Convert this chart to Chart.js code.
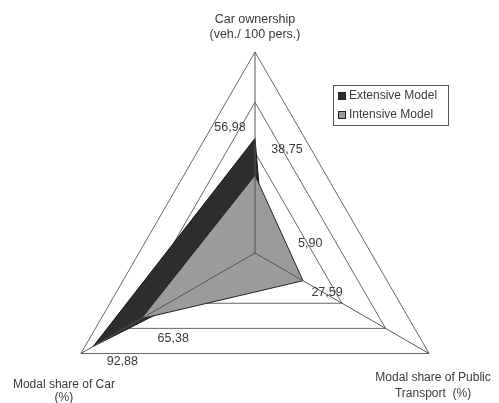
<!DOCTYPE html>
<html>
<head>
<meta charset="utf-8">
<script src="https://cdn.jsdelivr.net/npm/chart.js@4.4.1/dist/chart.umd.min.js"></script>
<style>
  html, body { margin: 0; padding: 0; background: #fff; overflow: hidden; width: 499px; height: 403px; }
  #wrap { width: 499px; height: 460px; }
</style>
</head>
<body>
<div id="wrap"><canvas id="c" width="499" height="460"></canvas></div>
<script>
// ---- data ----
const axisLabels = [
  ['Car ownership', '(veh./ 100 pers.)'],
  ['Modal share of Public', 'Transport  (%)'],
  ['Modal share of Car', '(%)']
];
const seriesNames = ['Extensive Model', 'Intensive Model'];
const extensiveValues = [56.98, 5.90, 92.88];
const intensiveValues = [38.75, 27.59, 65.38];
const scaleMin = 0;
const scaleMax = 100;
const scaleStep = 25;

// ---- styles ----
const FONT = '"Liberation Sans", Arial, sans-serif';
const TEXT = '#3a3a3a';
const seriesFill = ['#2e2e2e', '#9b9b9b'];
// offsets of value labels relative to their points (style only)
const valueLabelOffsets = [
  [[-25, -11], [45, -15], [29, 15]],
  [[32, -26], [24, 12], [32, 20]]
];
// axis title placement relative to axis end (style only)
const axisTitleStyle = [
  { dx: 0, dy: -32, lh: 15, size: 12.5 },
  { dx: 4, dy: 24, lh: 16, size: 12 },
  { dx: -17, dy: 31, lh: 13, size: 12 }
];

const fmt = v => v.toFixed(2).replace('.', ',');

const overlayPlugin = {
  id: 'overlay',
  afterDatasetsDraw(chart) {
    const ctx = chart.ctx;
    const scale = chart.scales.r;
    const n = chart.data.labels.length;
    ctx.save();
    // axis lines on top of fills
    ctx.strokeStyle = '#555';
    ctx.lineWidth = 1;
    for (let i = 0; i < n; i++) {
      const p = scale.getPointPosition(i, scale.drawingArea);
      ctx.beginPath();
      ctx.moveTo(scale.xCenter, scale.yCenter);
      ctx.lineTo(p.x, p.y);
      ctx.stroke();
    }
    // value labels
    ctx.font = '12.5px ' + FONT;
    ctx.fillStyle = TEXT;
    ctx.textAlign = 'center';
    ctx.textBaseline = 'middle';
    chart.data.datasets.forEach((ds, di) => {
      const meta = chart.getDatasetMeta(di);
      meta.data.forEach((pt, i) => {
        const off = valueLabelOffsets[di][i];
        ctx.fillText(fmt(ds.data[i]), pt.x + off[0], pt.y + off[1]);
      });
    });
    // axis titles
    for (let i = 0; i < n; i++) {
      const p = scale.getPointPosition(i, scale.drawingArea);
      const st = axisTitleStyle[i];
      ctx.font = st.size + 'px ' + FONT;
      const lines = chart.data.labels[i];
      lines.forEach((t, k) => {
        ctx.fillText(t, p.x + st.dx, p.y + st.dy + k * st.lh);
      });
    }
    // legend
    ctx.font = '12px ' + FONT;
    const lx = 333, ly = 85, lw = 115, lh = 40;
    ctx.fillStyle = '#fff';
    ctx.fillRect(lx, ly, lw, lh);
    ctx.strokeStyle = '#555';
    ctx.strokeRect(lx + 0.5, ly + 0.5, lw, lh);
    ctx.textAlign = 'left';
    chart.data.datasets.forEach((ds, di) => {
      const yy = ly + 11 + di * 19;
      ctx.fillStyle = ds.backgroundColor;
      ctx.fillRect(lx + 5, yy - 4, 7, 7);
      ctx.strokeStyle = '#222';
      ctx.strokeRect(lx + 5.5, yy - 3.5, 7, 7);
      ctx.fillStyle = TEXT;
      ctx.fillText(ds.label, lx + 16, yy);
    });
    ctx.restore();
  }
};

new Chart(document.getElementById('c'), {
  type: 'radar',
  data: {
    labels: axisLabels,
    datasets: [
      {
        label: seriesNames[0],
        data: extensiveValues,
        backgroundColor: seriesFill[0],
        borderColor: '#111',
        borderWidth: 1,
        fill: true,
        order: 2
      },
      {
        label: seriesNames[1],
        data: intensiveValues,
        backgroundColor: seriesFill[1],
        borderColor: '#222',
        borderWidth: 1,
        fill: true,
        order: 1
      }
    ]
  },
  options: {
    responsive: false,
    animation: false,
    devicePixelRatio: 1,
    layout: { padding: { left: 54, right: 43, top: 52, bottom: 6 } },
    elements: { point: { radius: 0, hoverRadius: 0 }, line: { tension: 0 } },
    plugins: { legend: { display: false }, tooltip: { enabled: false } },
    scales: {
      r: {
        min: scaleMin,
        max: scaleMax,
        ticks: { display: false, stepSize: scaleStep },
        grid: { color: '#666', lineWidth: 1 },
        angleLines: { display: false },
        pointLabels: { display: false }
      }
    }
  },
  plugins: [overlayPlugin]
});
</script>
</body>
</html>
